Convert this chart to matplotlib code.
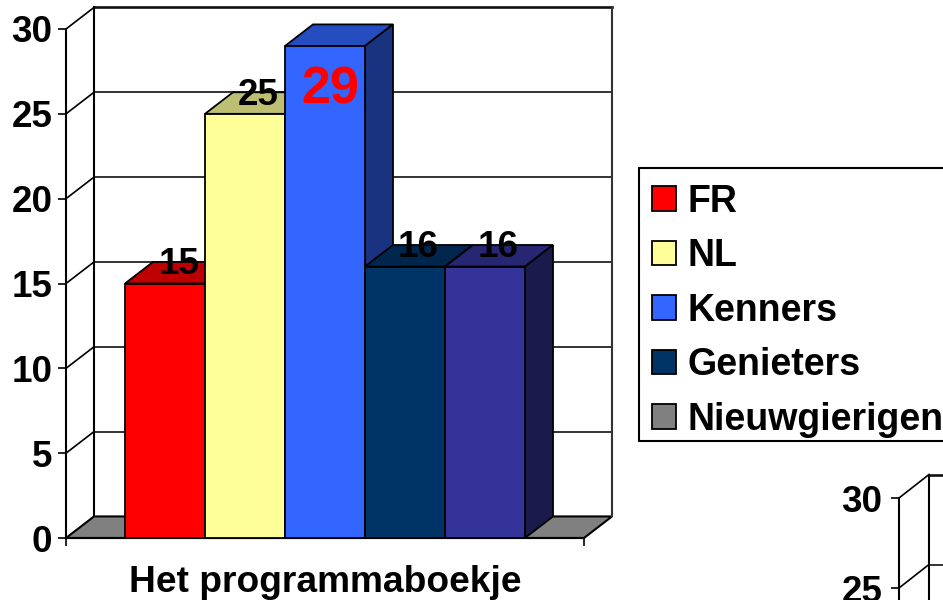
import matplotlib
matplotlib.use("Agg")
import matplotlib.pyplot as plt
from matplotlib.patches import Patch, Polygon, Rectangle

plt.rcParams['font.family'] = ['Liberation Sans', 'DejaVu Sans']
plt.rcParams['font.weight'] = 'bold'

# Donnees du graphique
categories = ["FR", "NL", "Kenners", "Genieters", "Nieuwgierigen"]
values = [15, 25, 29, 16, 16]
bar_colors = ["#FF0000", "#FFFF99", "#3366FF", "#003366", "#333399"]
legend_colors = ["#FF0000", "#FFFF99", "#3366FF", "#003366", "#808080"]
y_ticks = [0, 5, 10, 15, 20, 25, 30]
x_title = "Het programmaboekje"
second_ticks = [25, 30]

W, H = 943, 600
FS = 26.5


def shade(color, f):
    rgb = matplotlib.colors.to_rgb(color)
    return tuple(c * f for c in rgb)


def poly(ax, pts, fc, z, ec="black", lw=1.3):
    ax.add_patch(Polygon(pts, closed=True, facecolor=fc, edgecolor=ec,
                         linewidth=lw, zorder=z, clip_on=False))


# Axes dont le cadre est l'angle avant du graphique (en pixels de la figure)
def make_axes(left, bottom, right, top):
    ax = fig.add_axes([left / W, 1 - bottom / H, (right - left) / W, (bottom - top) / H])
    ax.patch.set_alpha(0)
    ax.spines[['top', 'right']].set_visible(False)
    ax.spines[['left', 'bottom']].set_linewidth(1.5)
    ax.set_ylim(0, 30)
    ax.tick_params(axis='y', length=5.8, width=1.2, pad=4, labelsize=FS)
    return ax


# Murs, sol et grille du decor 3D
def draw_frame(ax, ticks, dx, dy, x0, x1, floor=True):
    poly(ax, [(x0 + dx, dy), (x1 + dx, dy), (x1 + dx, 30 + dy), (x0 + dx, 30 + dy)],
         "white", 1, ec="none")
    if floor:
        poly(ax, [(x0, 0), (x1, 0), (x1 + dx, dy), (x0 + dx, dy)], "#808080", 1.5, lw=1.5)
    for t in ticks:
        if t > 0:
            ax.plot([x0, x0 + dx], [t, t + dy], color="black", lw=1.2, zorder=2, clip_on=False)
            ax.plot([x0 + dx, x1 + dx], [t + dy, t + dy], color="#111111",
                    lw=1.9 if t == 30 else 1.2, zorder=2, clip_on=False)
    ax.plot([x0 + dx, x0 + dx], [dy, 30 + dy], color="black", lw=1.5, zorder=2, clip_on=False)
    ax.plot([x1 + dx, x1 + dx], [dy, 30 + dy], color="#333333", lw=1.5, zorder=2, clip_on=False)


fig = plt.figure(figsize=(W / 100, H / 100), dpi=100, facecolor="white")

# Graphique principal
ax = make_axes(66, 538, 584, 29)
x_min, x_max = -1.2375, 5.2375
ax.set_xlim(x_min, x_max)
ax.set_yticks(y_ticks)
ax.set_xticks([x_min, x_max])
ax.set_xticklabels([])
ax.tick_params(axis='x', length=5.8, width=1.2)
ax.set_xlabel(x_title, fontsize=26.7, fontweight='bold', labelpad=10)

depth_x = 0.35
depth_y = 1.27
draw_frame(ax, y_ticks, depth_x, depth_y, x_min, x_max)

bar_w = 1.0
for i, (v, c) in enumerate(zip(values, bar_colors)):
    l, r = i - bar_w / 2, i + bar_w / 2
    z = 3 + i
    poly(ax, [(l, v), (r, v), (r + depth_x, v + depth_y), (l + depth_x, v + depth_y)],
         shade(c, 0.75), z)
    poly(ax, [(r, 0), (r + depth_x, depth_y), (r + depth_x, v + depth_y), (r, v)],
         shade(c, 0.5), z)
    ax.bar(i, v, width=bar_w, color=c, edgecolor="black", linewidth=1.3, zorder=z + 0.5)

# Etiquettes de valeurs : la plus grande est en rouge, dans sa barre
top_value = max(values)
for i, v in enumerate(values):
    if v == top_value:
        ax.text(i + 0.07, v - 2.6, str(v), color="#FF0000", fontsize=37.5, ha='center',
                va='center', zorder=20)
    else:
        ax.text(i + 0.17, v + 1.1, str(v), color="black", fontsize=FS, ha='center',
                va='center', zorder=20)

# Cadre de la legende : il depasse le bord droit de la figure
fig.add_artist(Rectangle((639 / W, 1 - 441 / H), 320 / W, 273 / H, transform=fig.transFigure,
                         facecolor="white", edgecolor="black", linewidth=1.5))
handles = [Patch(facecolor=c, edgecolor="black", linewidth=1.3) for c in legend_colors]
leg = fig.legend(handles, categories, loc='upper left',
                 bbox_to_anchor=(652 / W, 1 - 183.5 / H), bbox_transform=fig.transFigure,
                 borderaxespad=0, fontsize=27, frameon=False, handlelength=0.63,
                 handleheight=0.63, handletextpad=0.32, borderpad=0, labelspacing=0.495)

# Debut du graphique suivant, coupe par le bord de la figure
ax2 = make_axes(899, 1038, 1200, 498)
ax2.set_xlim(0, 1)
ax2.set_xticks([])
ax2.set_yticks(second_ticks)
ax2.tick_params(axis='y', pad=6)
draw_frame(ax2, second_ticks, 30 / 301, 23.5 / 18, 0, 1, floor=False)

fig.savefig("out.png", dpi=100)
